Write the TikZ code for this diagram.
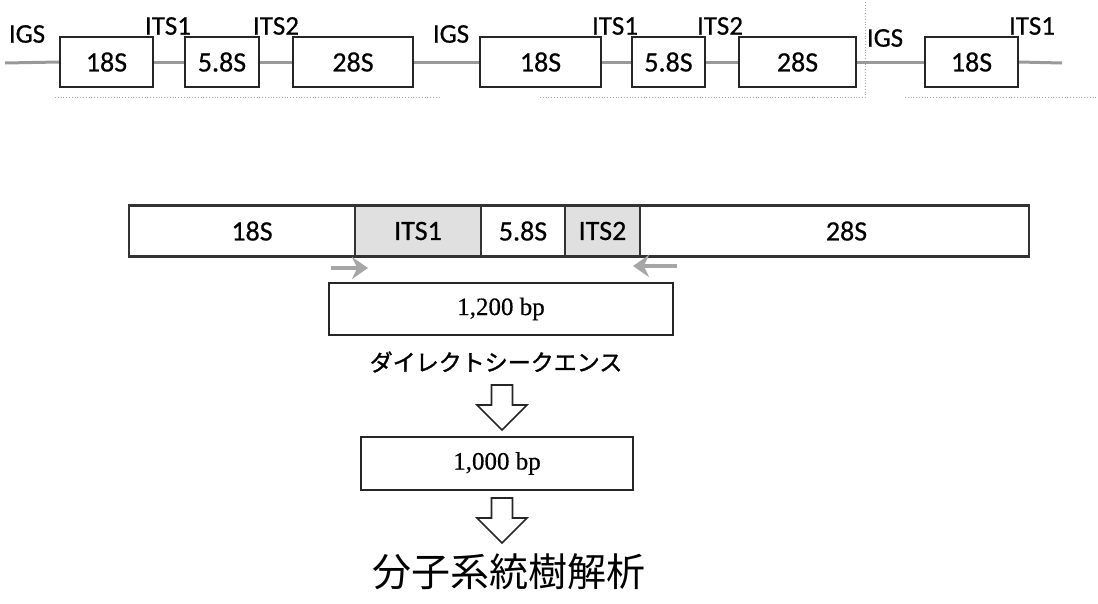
\documentclass[tikz,border=0pt]{standalone}
\usepackage{fontspec}
\setmainfont[FakeBold=0.6]{Carlito}
\newfontfamily\timesf[FakeBold=0.5]{Liberation Serif}
\newfontfamily\cjk{Noto Sans CJK JP}
\newfontfamily\cjkb[FakeBold=1.3]{Noto Sans CJK JP}
\usetikzlibrary{arrows.meta}
\tikzset{
  tbox/.style={draw=black!85, line width=2.2pt, fill=white, minimum height=50pt, inner sep=0pt, font=\fontsize{28}{28}\selectfont},
  lbl/.style={font=\fontsize{27}{27}\selectfont, inner sep=0pt},
  gline/.style={draw=black!40, line width=3pt},
  seg/.style={draw=black!80, line width=2.4pt, minimum height=51pt, inner sep=0pt, font=\fontsize{28}{28}\selectfont},
  its/.style={seg, fill=black!12},
  bpbox/.style={draw=black!85, line width=2pt, inner sep=0pt, font=\timesf\fontsize{25}{25}\selectfont},
  primer/.style={draw=black!35, line width=3.5pt, -{Stealth[length=16pt,width=22pt]}},
  faint/.style={draw=black!35, line width=0.8pt, dotted},
  harrow/.pic={\draw[line width=1.7pt, black!85, line join=miter] (-10.5,0) -- (-10.5,20) -- (-25,20) -- (0,45) -- (25,20) -- (10.5,20) -- (10.5,0) -- cycle;}
}
\begin{document}
\begin{tikzpicture}[x=1pt,y=-1pt]
\useasboundingbox (0,0) rectangle (1098,603);
% faint scan dotted lines
\draw[faint] (55,97) -- (440,97);
\draw[faint] (540,97) -- (865,97);
\draw[faint] (905,97) -- (1098,97);
\draw[faint] (865,2) -- (865,97);
% top row
\coordinate (l0) at (5,63);
\coordinate (l1) at (1062,63);
\node[tbox, minimum width=93pt] (a1) at (106.5,62) {18S};
\node[tbox, minimum width=74pt] (a2) at (222,62) {5.8S};
\node[tbox, minimum width=120pt] (a3) at (353,62) {28S};
\node[tbox, minimum width=121pt] (a4) at (540.5,62) {18S};
\node[tbox, minimum width=73pt] (a5) at (668.5,62) {5.8S};
\node[tbox, minimum width=117pt] (a6) at (797.5,62) {28S};
\node[tbox, minimum width=93pt] (a7) at (971.5,62) {18S};
\draw[gline] (l0) -- (a1.west);
\draw[gline] (a1.east) -- (a2.west);
\draw[gline] (a2.east) -- (a3.west);
\draw[gline] (a3.east) -- (a4.west);
\draw[gline] (a4.east) -- (a5.west);
\draw[gline] (a5.east) -- (a6.west);
\draw[gline] (a6.east) -- (a7.west);
\draw[gline] (a7.east) -- (l1);
\node[lbl] (g1) at (27,34) {IGS};
\node[lbl] (t1) at (168,26) {ITS1};
\node[lbl] (t2) at (276,26) {ITS2};
\node[lbl] (g2) at (451,34) {IGS};
\node[lbl] (t3) at (615,26) {ITS1};
\node[lbl] (t4) at (720,26) {ITS2};
\node[lbl] (g3) at (885,38) {IGS};
\node[lbl] (t5) at (1032,26) {ITS1};
% middle bar
\node[seg, minimum width=226pt, label={[font=\fontsize{28}{28}\selectfont, xshift=10pt]center:18S}] (s1) at (242,231) {};
\node[its, minimum width=126pt] (s2) at (418,231) {ITS1};
\node[seg, minimum width=84pt] (s3) at (523,231) {5.8S};
\node[its, minimum width=75pt] (s4) at (602.5,231) {ITS2};
\node[seg, minimum width=389pt, label={[font=\fontsize{28}{28}\selectfont, xshift=12pt]center:28S}] (s5) at (834.5,231) {};
% primers
\coordinate (p1a) at (331,268);
\coordinate (p1b) at (368,268);
\coordinate (p2a) at (677,266);
\coordinate (p2b) at (633,266);
\draw[primer] (p1a) -- (p1b);
\draw[primer] (p2a) -- (p2b);
% products
\node[bpbox, minimum width=344pt, minimum height=52pt] (b1) at (501,309) {1,200 bp};
\node[font=\cjkb\fontsize{23}{23}\selectfont, inner sep=0pt] (ds) at (496,362) {ダイレクトシークエンス};
\coordinate (ar1) at (502,385);
\pic at (ar1) {harrow};
\node[bpbox, minimum width=272pt, minimum height=53pt] (b2) at (497,463.5) {1,000 bp};
\coordinate (ar2) at (502,498);
\pic at (ar2) {harrow};
\node[font=\cjk\fontsize{39}{39}\selectfont, inner sep=0pt] (fin) at (509,572) {分子系統樹解析};
\end{tikzpicture}
\end{document}
